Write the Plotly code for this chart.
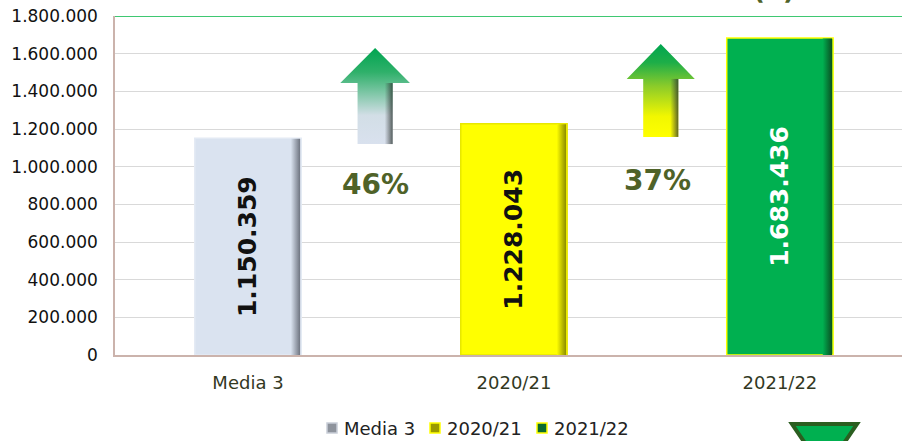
import plotly.graph_objects as go

# ---------------- data ----------------
categories = ["Media 3", "2020/21", "2021/22"]
values = [1150359, 1228043, 1683436]
pct_labels = ["46%", "37%"]
y_ticks = [0, 200000, 400000, 600000, 800000, 1000000, 1200000, 1400000, 1600000, 1800000]

# ---------------- styles ----------------
bar_colors = ["#DAE3F0", "#FFFF00", "#00B050"]
bar_border = ["#E3EAF4", "#E8E800", "#FFFF00"]
shade_colors = ["#6E7480", "#8C8C00", "#0A4F22"]
text_colors = ["#111111", "#111111", "#FFFFFF"]
legend_colors = ["#8E939C", "#9A9A00", "#0B6A30"]
legend_borders = ["#C9CED8", "#FFFF00", "#FFFF00"]
olive = "#4F6228"
BW = 0.40

xpos = list(range(len(categories)))

fig = go.Figure()

# bars
for i, (c, v) in enumerate(zip(categories, values)):
    fig.add_trace(go.Bar(
        x=[xpos[i]], y=[v], width=BW, name=c, showlegend=False,
        marker=dict(color=bar_colors[i], line=dict(color=bar_border[i], width=1.5)),
        texttemplate="<b>%{y:,d}</b>", textangle=-90, textposition="inside",
        insidetextanchor="middle",
        textfont=dict(family="DejaVu Sans", size=25, color=text_colors[i]),
        hoverinfo="skip",
    ))
    # right edge shading strip
    x1 = xpos[i] + BW / 2 - 0.004
    x0 = x1 - 0.035
    fig.add_trace(go.Scatter(
        x=[x0, x1, x1, x0, x0], y=[0, 0, v * 0.998, v * 0.998, 0],
        fill="toself", mode="lines", line=dict(width=0),
        fillgradient=dict(type="horizontal", start=x0, stop=x1,
                          colorscale=[[0, bar_colors[i]], [1, shade_colors[i]]]),
        showlegend=False, hoverinfo="skip",
    ))

# arrows (decorative), positioned between categories
arrows = [
    dict(cx=0.478, hw=0.131, sw=0.066, tip=1630000, base=1444000, bot=1120000,
         scale=[[0, "#D9E1EE"], [0.3, "#D2DEE6"], [0.75, "#2FB06A"], [1, "#00A550"]]),
    dict(cx=1.552, hw=0.128, sw=0.066, tip=1651000, base=1466000, bot=1158000,
         scale=[[0, "#FFFF00"], [0.22, "#F2F700"], [0.55, "#8ACB2A"], [0.8, "#1EAE48"], [1, "#00A550"]]),
]
for a in arrows:
    cx, hw, sw = a["cx"], a["hw"], a["sw"]
    xs = [cx - sw, cx - sw, cx - hw, cx, cx + hw, cx + sw, cx + sw, cx - sw]
    ys = [a["bot"], a["base"], a["base"], a["tip"], a["base"], a["base"], a["bot"], a["bot"]]
    fig.add_trace(go.Scatter(
        x=xs, y=ys, fill="toself", mode="lines", line=dict(width=0),
        fillgradient=dict(type="vertical", start=a["bot"], stop=a["tip"], colorscale=a["scale"]),
        showlegend=False, hoverinfo="skip",
    ))
    # stem shadow
    s1 = cx + sw
    s0 = s1 - 0.03
    fig.add_trace(go.Scatter(
        x=[s0, s1, s1, s0, s0], y=[a["bot"], a["bot"], a["base"], a["base"], a["bot"]],
        fill="toself", mode="lines", line=dict(width=0),
        fillgradient=dict(type="horizontal", start=s0, stop=s1,
                          colorscale=[[0, "rgba(60,60,60,0)"], [1, "rgba(40,50,45,0.75)"]]),
        showlegend=False, hoverinfo="skip",
    ))

# percentage labels
pct_pos = [(0.481, 903000), (1.538, 924000)]
for t, (px, py) in zip(pct_labels, pct_pos):
    fig.add_annotation(x=px, y=py, text=f"<b>{t}</b>", showarrow=False,
                       font=dict(family="DejaVu Sans", size=28, color=olive))


def pp(px, py):
    """pixel position -> paper coordinates (plot area 115..902 x 16..355)"""
    return (px - 115) / 787, (355 - py) / 339


# legend (drawn manually to match swatch/text spacing)
legend_sym_x = [327, 430, 537]
legend_y = 428
for i, c in enumerate(categories):
    a0 = pp(legend_sym_x[i], legend_y - 5)
    a1 = pp(legend_sym_x[i] + 10, legend_y + 5)
    fig.add_shape(type="rect", xref="paper", yref="paper",
                  x0=a0[0], x1=a1[0], y0=a1[1], y1=a0[1],
                  fillcolor=legend_colors[i], line=dict(color=legend_borders[i], width=1.5))
    t = pp(legend_sym_x[i] + 15, legend_y)
    fig.add_annotation(xref="paper", yref="paper", x=t[0], y=t[1], xanchor="left", yanchor="middle",
                       text=c, showarrow=False,
                       font=dict(family="DejaVu Sans", size=18, color="#222222"))

# top green line
fig.add_shape(type="line", xref="paper", yref="y", x0=0, x1=1, y0=y_ticks[-1], y1=y_ticks[-1],
              line=dict(color="#3FC872", width=2))

# cut-off corner marker (bottom right)
p1, p2, p3 = pp(792, 424), pp(857, 424), pp(824.5, 472)
fig.add_shape(type="path", xref="paper", yref="paper",
              path=f"M {p1[0]},{p1[1]} L {p2[0]},{p2[1]} L {p3[0]},{p3[1]} Z",
              fillcolor="#00B050", line=dict(color="#2B5E20", width=4))

# cut-off title fragment at top
tp = pp(797, 7)
fig.add_annotation(xref="paper", yref="paper", x=tp[0], y=tp[1],
                   yanchor="bottom", text="<b>(€)</b>", showarrow=False,
                   font=dict(family="DejaVu Sans", size=26, color=olive))

fig.update_layout(
    width=902, height=441,
    margin=dict(l=115, r=0, t=16, b=86, autoexpand=False),
    plot_bgcolor="white", paper_bgcolor="white",
    barmode="overlay",
    separators=",.",
    showlegend=False,
    xaxis=dict(range=[-0.5, 2.459], tickvals=xpos, ticktext=categories,
               showgrid=False, zeroline=False, showline=True, linecolor="#CBB3AC", linewidth=1.5,
               ticks="", ticklabelstandoff=11, automargin=False,
               tickfont=dict(family="DejaVu Sans", size=18, color="#33391F")),
    yaxis=dict(range=[0, 1800000], tickvals=y_ticks, tickformat=",d",
               showgrid=True, gridcolor="#D9D9D9", gridwidth=1, zeroline=False,
               showline=True, linecolor="#CBB3AC", linewidth=1.5, ticks="",
               ticklabelstandoff=12, automargin=False,
               tickfont=dict(family="DejaVu Sans", size=17, color="#111111")),
)

fig.write_html("out.html", config={"displayModeBar": False},
               post_script="document.body.style.margin='0';document.body.style.overflow='hidden';")
